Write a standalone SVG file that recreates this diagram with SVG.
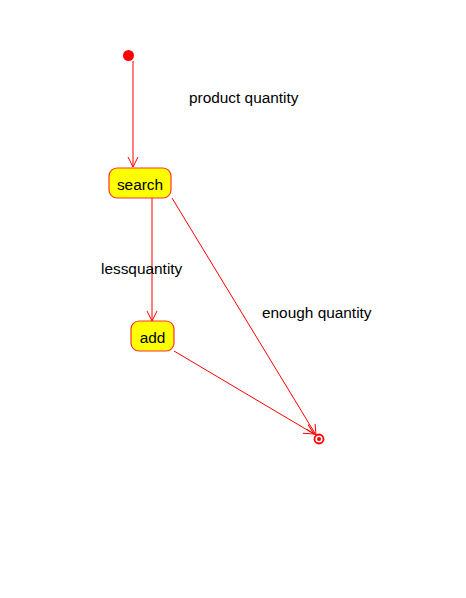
<svg xmlns="http://www.w3.org/2000/svg" width="466" height="598" viewBox="0 0 466 598">
<defs>
<marker id="arr" markerWidth="12" markerHeight="12" refX="11" refY="6" orient="auto" markerUnits="userSpaceOnUse">
<path d="M1,1 L11,6 L1,11" fill="none" stroke="#ff0000" stroke-width="1"/>
</marker>
</defs>
<style>
.st{fill:#ffff00;stroke:#ff3333;stroke-width:1.2}
.t{font-family:"Liberation Sans",Arial,sans-serif;font-size:15.4px;fill:#000}
.c{stroke:#ff0000;stroke-width:1;fill:none}
</style>
<rect width="466" height="598" fill="#ffffff"/>
<g id="connectors">
<line class="c" x1="133" y1="61" x2="133" y2="167" marker-end="url(#arr)"/>
<line class="c" x1="152" y1="198" x2="152" y2="321" marker-end="url(#arr)"/>
<line class="c" x1="172" y1="198" x2="316" y2="435" marker-end="url(#arr)"/>
<line class="c" x1="174" y1="351" x2="314" y2="434" marker-end="url(#arr)"/>
</g>
<g id="initial"><circle cx="128.5" cy="55.5" r="5.5" fill="#ff0000"/></g>
<g id="search"><rect class="st" x="109" y="168" width="62" height="30" rx="8"/><text class="t" x="140" y="190" text-anchor="middle">search</text></g>
<g id="add"><rect class="st" x="131" y="321" width="43" height="30" rx="8"/><text class="t" x="152.5" y="343" text-anchor="middle">add</text></g>
<g id="final"><circle cx="319" cy="439" r="4.5" fill="none" stroke="#ff0000" stroke-width="1.8"/><circle cx="319" cy="439" r="2" fill="#ff0000"/></g>
<g id="labels">
<text class="t" x="189" y="103">product quantity</text>
<text class="t" x="101" y="274">lessquantity</text>
<text class="t" x="262" y="318">enough quantity</text>
</g>
</svg>
